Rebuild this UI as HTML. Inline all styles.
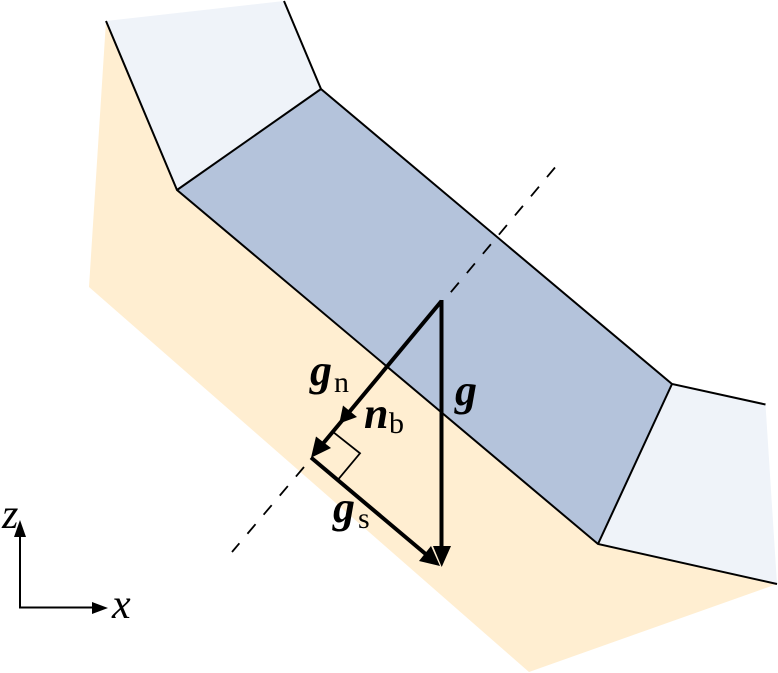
<!DOCTYPE html>
<html>
<head>
<meta charset="utf-8">
<style>
html,body{margin:0;padding:0;background:#fff;width:778px;height:673px;overflow:hidden}
svg{display:block}
text{font-family:"Liberation Serif",serif;fill:#000}
.v{font-weight:bold;font-style:italic;font-size:44px}
.s{font-size:30px}
.a{font-style:italic;font-size:42px}
</style>
</head>
<body>
<svg width="778" height="673" viewBox="0 0 778 673" xmlns="http://www.w3.org/2000/svg">
<polygon points="106,21 177,190 598,544 777,584 529,672 89,287" fill="#ffeed1"/>
<polygon points="106,21 284,1 321,89 177,190" fill="#eff3f9"/>
<polygon points="672,384 765.5,404.5 777,584 598,544" fill="#eff3f9"/>
<polygon points="177,190 321,89 672,384 598,544" fill="#b4c3db"/>
<g fill="none" stroke="#000" stroke-width="2">
<polyline points="106,21 177,190 598,544 777,584"/>
<polyline points="284,1 321,89 672,384 765.5,404.5"/>
<line x1="177" y1="190" x2="321" y2="89"/>
<line x1="672" y1="384" x2="598" y2="544"/>
</g>
<g stroke="#000" stroke-width="1.8" stroke-dasharray="12.5 12.5" fill="none">
<line x1="555" y1="167.5" x2="446" y2="298"/>
<line x1="304" y1="467" x2="232" y2="552"/>
</g>
<polyline points="334,432.7 360,453.3 338.3,479.3" fill="none" stroke="#000" stroke-width="1.8"/>
<g stroke="#000" stroke-width="4" fill="none">
<line x1="441.5" y1="300" x2="441.5" y2="550"/>
<line x1="441.5" y1="301" x2="316" y2="452"/>
<line x1="311" y1="457.5" x2="428" y2="556"/>
</g>
<polygon points="441.7,567 433,546 451,546" fill="#000"/>
<polygon points="440,566 419,561 431,546" fill="#000"/>
<polygon points="311,457.7 316,436.5 331,448" fill="#000"/>
<polygon points="339.3,423.5 343,405.5 357,417" fill="#000"/>
<polyline points="20,530 20,607.5 95,607.5" fill="none" stroke="#000" stroke-width="2"/>
<polygon points="20,520 14,537 26,537" fill="#000"/>
<polygon points="108,608 92,602 92,614" fill="#000"/>
<text class="v" x="310" y="385">g</text><text class="s" x="334" y="392">n</text>
<text class="v" x="364" y="428">n</text><text class="s" x="389" y="433">b</text>
<text class="v" x="455" y="405">g</text>
<text class="v" x="333" y="522">g</text><text class="s" x="358" y="528">s</text>
<text class="a" x="2" y="528">z</text>
<text class="a" x="112" y="618">x</text>
</svg>
</body>
</html>
